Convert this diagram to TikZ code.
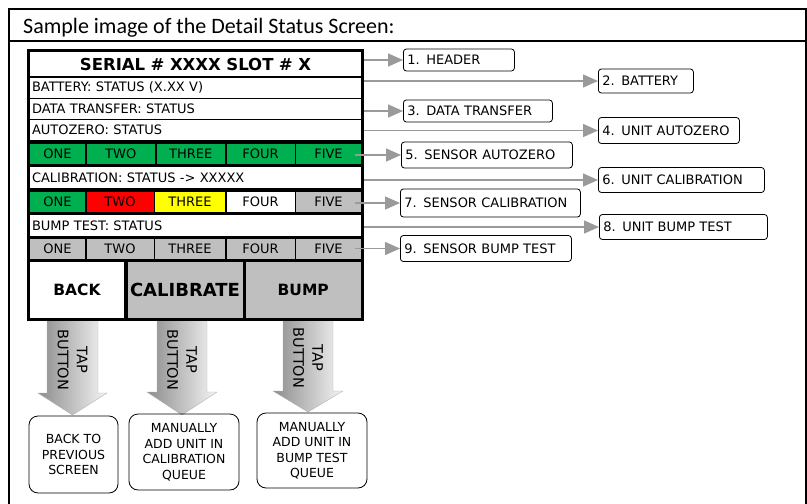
\documentclass[tikz,border=0pt]{standalone}
\usepackage{fontspec}
\setmainfont{DejaVu Sans}
\newfontfamily\titlefont{Carlito}
\usetikzlibrary{arrows.meta}
\pgfdeclarelayer{edgelayer}
\pgfdeclarelayer{nodelayer}
\pgfsetlayers{edgelayer,nodelayer,main}
\definecolor{okgreen}{HTML}{00B050}
\definecolor{failred}{HTML}{FF0000}
\definecolor{warnyellow}{HTML}{FFFF00}
\definecolor{idlegray}{HTML}{BFBFBF}
\definecolor{pointergray}{HTML}{9A9A9A}
\tikzstyle{none}=[inner sep=0pt]
\tikzstyle{statusrow}=[rectangle, fill=white, inner xsep=2pt, inner ysep=0pt, minimum width=331pt, text width=327pt, align=left, font=\fontsize{13}{15}\selectfont]
\tikzstyle{sensorcell}=[rectangle, inner sep=0pt, align=center, font=\fontsize{13}{15}\selectfont]
\tikzstyle{softkey}=[rectangle, inner sep=0pt, minimum height=56pt, font=\bfseries\fontsize{15.5}{18}\selectfont]
\tikzstyle{callout}=[rectangle, draw=black, rounded corners=3pt, line width=0.8pt, inner xsep=4pt, inner ysep=0pt, align=left, anchor=west, font=\fontsize{13}{15}\selectfont]
\tikzstyle{outcome}=[rectangle, draw=black, rounded corners=9pt, line width=0.8pt, inner sep=0pt, align=center, font=\fontsize{12.5}{15.5}\selectfont]
\tikzstyle{pointer}=[draw=pointergray, line width=1.5pt, -{Triangle[length=15pt,width=13pt]}]
\tikzstyle{tapnote}=[inner sep=0pt, align=center, rotate=-90, font=\fontsize{14.5}{19}\selectfont]
\tikzstyle{tapshade}=[left color=black!45, right color=black!4, draw=black!30, line width=0.4pt]

\begin{document}
\begin{tikzpicture}[x=1pt, y=-1pt]
			\useasboundingbox (0,0) rectangle (807,504);
			\begin{pgfonlayer}{edgelayer}
			\draw [line width=2pt] (9,510) -- (9,9) -- (805.5,9) -- (805.5,510);
			\draw [line width=2pt] (9,41) -- (805.5,41);
			\shade [style=tapshade] (47,320) -- (98,320) -- (98,393) -- (107,393) -- (72.5,415) -- (38,393) -- (47,393) -- cycle;
			\shade [style=tapshade] (157,320) -- (207,320) -- (207,392) -- (217,392) -- (182,415) -- (147,392) -- (157,392) -- cycle;
			\shade [style=tapshade] (283,320) -- (333,320) -- (333,391) -- (343,391) -- (308,412) -- (273,391) -- (283,391) -- cycle;
			\end{pgfonlayer}
			\begin{pgfonlayer}{nodelayer}
			\node [style=none, anchor=base west, font=\titlefont\fontsize{22}{26}\selectfont] (43) at (23,33) {Sample image of the Detail Status Screen:};
			\node [style=none, fill=black, minimum width=337.5pt, minimum height=272.5pt] (0) at (195.25,184.75) {};
			\node [style=statusrow, minimum height=24pt, align=center, font=\bfseries\fontsize{16.5}{19}\selectfont] (1) at (195.5,64) {SERIAL \# XXXX SLOT \# X};
			\node [style=statusrow, minimum height=20pt] (2) at (195.5,87.5) {BATTERY: STATUS (X.XX V)};
			\node [style=statusrow, minimum height=19.5pt] (3) at (195.5,108.75) {DATA TRANSFER: STATUS};
			\node [style=statusrow, minimum height=20pt] (4) at (195.5,130) {AUTOZERO: STATUS};
			\node [style=sensorcell, fill=okgreen, minimum width=55pt, minimum height=20.5pt] (5) at (57.5,153.75) {ONE};
			\node [style=sensorcell, fill=okgreen, minimum width=68.5pt, minimum height=20.5pt] (6) at (120.75,153.75) {TWO};
			\node [style=sensorcell, fill=okgreen, minimum width=68.5pt, minimum height=20.5pt] (7) at (190.75,153.75) {THREE};
			\node [style=sensorcell, fill=okgreen, minimum width=68pt, minimum height=20.5pt] (8) at (260.5,153.75) {FOUR};
			\node [style=sensorcell, fill=okgreen, minimum width=65pt, minimum height=20.5pt] (9) at (328.5,153.75) {FIVE};
			\node [style=statusrow, minimum height=21pt] (10) at (195.5,177.6) {CALIBRATION: STATUS -> XXXXX};
			\node [style=sensorcell, fill=okgreen, minimum width=55pt, minimum height=20.2pt] (11) at (57.5,201.6) {ONE};
			\node [style=sensorcell, fill=failred, minimum width=67pt, minimum height=20.2pt] (12) at (120,201.6) {TWO};
			\node [style=sensorcell, fill=warnyellow, minimum width=70pt, minimum height=20.2pt] (13) at (190,201.6) {THREE};
			\node [style=sensorcell, fill=white, minimum width=68pt, minimum height=20.2pt] (14) at (260.5,201.6) {FOUR};
			\node [style=sensorcell, fill=idlegray, minimum width=65pt, minimum height=20.2pt] (15) at (328.5,201.6) {FIVE};
			\node [style=statusrow, minimum height=20.7pt] (16) at (195.5,225.3) {BUMP TEST: STATUS};
			\node [style=sensorcell, fill=idlegray, minimum width=55pt, minimum height=20.3pt] (17) at (57.5,248.8) {ONE};
			\node [style=sensorcell, fill=idlegray, minimum width=67pt, minimum height=20.3pt] (18) at (120,248.8) {TWO};
			\node [style=sensorcell, fill=idlegray, minimum width=70pt, minimum height=20.3pt] (19) at (190,248.8) {THREE};
			\node [style=sensorcell, fill=idlegray, minimum width=68pt, minimum height=20.3pt] (20) at (260.5,248.8) {FOUR};
			\node [style=sensorcell, fill=idlegray, minimum width=65pt, minimum height=20.3pt] (21) at (328.5,248.8) {FIVE};
			\node [style=softkey, fill=white, minimum width=94pt] (22) at (77,290) {BACK};
			\node [style=softkey, fill=idlegray, minimum width=115pt, font=\bfseries\fontsize{18}{20}\selectfont] (23) at (185,290) {CALIBRATE};
			\node [style=softkey, fill=idlegray, minimum width=115.5pt] (24) at (303.25,290) {BUMP};
			\node [style=callout, text width=103pt, minimum height=22pt] (25) at (403,60) {1. HEADER};
			\node [style=callout, text width=87pt, minimum height=24pt] (26) at (598,81) {2. BATTERY};
			\node [style=callout, text width=141pt, minimum height=22pt] (27) at (403,111) {3. DATA TRANSFER};
			\node [style=callout, text width=133pt, minimum height=26pt] (28) at (598,130.5) {4. UNIT AUTOZERO};
			\node [style=callout, text width=163pt, minimum height=26pt] (29) at (401,155) {5. SENSOR AUTOZERO};
			\node [style=callout, text width=158pt, minimum height=25pt] (30) at (598,180) {6. UNIT CALIBRATION};
			\node [style=callout, text width=172pt, minimum height=28pt] (31) at (400,203) {7. SENSOR CALIBRATION};
			\node [style=callout, text width=160pt, minimum height=25pt] (32) at (599,227) {8. UNIT BUMP TEST};
			\node [style=callout, text width=163pt, minimum height=26pt] (33) at (400,248.5) {9. SENSOR BUMP TEST};
			\node [style=none] (34) at (355,155) {};
			\node [style=none] (35) at (355,203) {};
			\node [style=none] (36) at (355,248.5) {};
			\node [style=tapnote] (37) at (72.5,360) {TAP\\BUTTON};
			\node [style=tapnote] (38) at (182,360) {TAP\\BUTTON};
			\node [style=tapnote] (39) at (308,358) {TAP\\BUTTON};
			\node [style=outcome, minimum width=89pt, minimum height=77pt] (40) at (73.5,454.5) {BACK TO\\PREVIOUS\\SCREEN};
			\node [style=outcome, minimum width=110pt, minimum height=76pt] (41) at (184,452) {MANUALLY\\ADD UNIT IN\\CALIBRATION\\QUEUE};
			\node [style=outcome, minimum width=110pt, minimum height=75pt] (42) at (312,450.5) {MANUALLY\\ADD UNIT IN\\BUMP TEST\\QUEUE};
			\end{pgfonlayer}
			\draw [style=pointer] (0.east |- 25.west) to (25.west);
			\draw [style=pointer] (0.east |- 26.west) to (26.west);
			\draw [style=pointer] (0.east |- 27.west) to (27.west);
			\draw [style=pointer] (0.east |- 28.west) to (28.west);
			\draw [style=pointer] (34.center) to (29.west);
			\draw [style=pointer] (0.east |- 30.west) to (30.west);
			\draw [style=pointer] (35.center) to (31.west);
			\draw [style=pointer] (0.east |- 32.west) to (32.west);
			\draw [style=pointer] (36.center) to (33.west);
\end{tikzpicture}
\end{document}
